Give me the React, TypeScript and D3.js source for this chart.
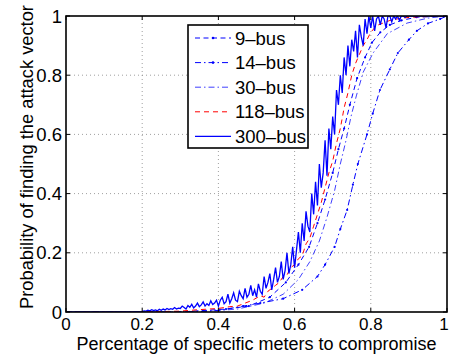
import React from 'react';
import * as d3 from 'd3';

// tick values
const xTicks = [0, 0.2, 0.4, 0.6, 0.8, 1];
const yTicks = [0, 0.2, 0.4, 0.6, 0.8, 1];

// 9-bus (blue dashed, close to 118-bus)
const bus9: [number, number][] = [
  [0, 0], [0.3, 0], [0.42, 0.01], [0.48, 0.02], [0.535, 0.05], [0.577, 0.1], [0.61, 0.16],
  [0.638, 0.22], [0.66, 0.3], [0.68, 0.38], [0.7, 0.47], [0.715, 0.55], [0.73, 0.62],
  [0.745, 0.7], [0.764, 0.79], [0.785, 0.86], [0.803, 0.91], [0.825, 0.945], [0.85, 0.97],
  [0.88, 0.985], [0.92, 0.996], [1, 1],
];

// 14-bus (rightmost, dash-dot with dots)
const bus14: [number, number][] = [
  [0, 0], [0.3, 0], [0.4, 0.005], [0.465, 0.02], [0.51, 0.03], [0.57, 0.045], [0.62, 0.075],
  [0.66, 0.12], [0.68, 0.16], [0.705, 0.22], [0.72, 0.28], [0.738, 0.345], [0.753, 0.43],
  [0.766, 0.5], [0.79, 0.6], [0.805, 0.67], [0.824, 0.75], [0.85, 0.82], [0.871, 0.875],
  [0.9, 0.92], [0.921, 0.95], [0.95, 0.975], [0.982, 0.99], [1, 1],
];

// 30-bus (middle dash-dot)
const bus30: [number, number][] = [
  [0, 0], [0.35, 0], [0.45, 0.01], [0.52, 0.03], [0.57, 0.06], [0.61, 0.11], [0.64, 0.17],
  [0.665, 0.24], [0.685, 0.32], [0.705, 0.41], [0.72, 0.5], [0.735, 0.58], [0.748, 0.66],
  [0.762, 0.73], [0.78, 0.81], [0.806, 0.875], [0.843, 0.94], [0.895, 0.976], [0.95, 0.993],
  [1, 1],
];

// 118-bus (red dashed)
const bus118: [number, number][] = [
  [0, 0], [0.2, 0], [0.3, 0.003], [0.35, 0.008], [0.4, 0.012], [0.43, 0.018], [0.45, 0.02],
  [0.47, 0.03], [0.49, 0.04], [0.51, 0.055], [0.52, 0.05], [0.53, 0.07], [0.54, 0.08],
  [0.55, 0.09], [0.56, 0.1], [0.57, 0.12], [0.58, 0.125], [0.59, 0.15], [0.6, 0.16],
  [0.61, 0.18], [0.62, 0.19], [0.63, 0.23], [0.64, 0.25], [0.65, 0.29], [0.66, 0.33],
  [0.67, 0.37], [0.68, 0.42], [0.69, 0.47], [0.7, 0.51], [0.71, 0.57], [0.72, 0.62],
  [0.73, 0.69], [0.74, 0.74], [0.75, 0.8], [0.76, 0.84], [0.77, 0.87], [0.78, 0.9],
  [0.79, 0.92], [0.8, 0.945], [0.81, 0.96], [0.82, 0.97], [0.83, 0.975], [0.85, 0.985],
  [0.88, 0.993], [0.92, 0.997], [1, 1],
];

// 300-bus (solid, noisy) sampled every 0.005 starting at 0.2
const bus300Start = 0.2;
const bus300Step = 0.005;
const bus300Y = [
  0.002, 0.004, 0.003, 0.006, 0.004, 0.008, 0.005, 0.007, 0.004, 0.009, 0.006, 0.01, 0.007, 0.012, 0.008, 0.011, 0.009, 0.015, 0.01, 0.013,
  0.012, 0.02, 0.015, 0.01, 0.022, 0.016, 0.026, 0.014, 0.02, 0.03, 0.018, 0.024, 0.034, 0.02, 0.028, 0.022, 0.038, 0.025, 0.03, 0.04,
  0.02, 0.04, 0.05, 0.028, 0.035, 0.06, 0.03, 0.045, 0.065, 0.04, 0.035, 0.07, 0.055, 0.045, 0.08, 0.05, 0.06, 0.09, 0.055, 0.075,
  0.05, 0.095, 0.07, 0.06, 0.12, 0.08, 0.1, 0.13, 0.075, 0.11, 0.15, 0.1, 0.12, 0.17, 0.11, 0.14, 0.2, 0.13, 0.16, 0.22,
  0.15, 0.21, 0.27, 0.2, 0.3, 0.24, 0.34, 0.29, 0.27, 0.4, 0.33, 0.44, 0.36, 0.5, 0.42, 0.47, 0.58, 0.46, 0.62, 0.55,
  0.66, 0.6, 0.75, 0.7, 0.8, 0.74, 0.86, 0.8, 0.9, 0.83, 0.92, 0.88, 0.95, 0.86, 0.97, 0.93, 0.9, 0.99, 0.94, 1,
  0.96, 1, 0.95, 0.99, 1, 0.97, 1, 0.99, 0.96, 1, 1, 0.98, 1, 0.99, 1, 0.985, 1, 1, 0.995, 1,
  1,
];
const bus300Head: [number, number][] = [[0, 0], [0.2, 0]];
const bus300Tail: [number, number][] = [[1, 1]];

const legendLabels = ['9\u2013bus', '14\u2013bus', '30\u2013bus', '118\u2013bus', '300\u2013bus'];

const W = 450;
const H = 354;
const M = { left: 66, right: 3, top: 16, bottom: 42 };
const FONT = '"Liberation Sans", Arial, Helvetica, sans-serif';

export default function App() {
  const x = d3.scaleLinear().domain([0, 1]).range([M.left, W - M.right]);
  const y = d3.scaleLinear().domain([0, 1]).range([H - M.bottom, M.top]);
  const line = d3.line<[number, number]>().x((d) => x(d[0])).y((d) => y(d[1]));

  const bus300: [number, number][] = [
    ...bus300Head,
    ...bus300Y.map((v, i) => [bus300Start + i * bus300Step, v] as [number, number]),
    ...bus300Tail,
  ];

  const series = [
    { data: bus9, color: '#0000ff', dash: '5,3.5', width: 1, dots: true, opacity: 1 },
    { data: bus14, color: '#0000ff', dash: '6,3,1.5,3', width: 1, dots: true, opacity: 1 },
    { data: bus30, color: '#0000ff', dash: '6,3,1.5,3', width: 1, dots: false, opacity: 0.75 },
    { data: bus118, color: '#ff0000', dash: '5,4', width: 1, dots: false, opacity: 1 },
    { data: bus300, color: '#0000ff', dash: '', width: 1.3, dots: false, opacity: 1 },
  ];

  const [x0, x1] = x.range();
  const [y0, y1] = y.range();

  const legend = { left: 188, top: 25, w: 120, h: 123 };
  const rowY = (i: number) => legend.top + 13 + i * 24.6;

  return (
    <svg width={W} height={H} style={{ position: 'absolute', left: 0, top: 0, background: '#fff' }} fontFamily={FONT}>
      <defs>
        <clipPath id="plot">
          <rect x={x0} y={y1} width={x1 - x0} height={y0 - y1} />
        </clipPath>
      </defs>
      <rect x={0} y={0} width={W} height={H} fill="#fff" />

      {/* grid */}
      {xTicks.slice(1, -1).map((t) => (
        <line key={'gx' + t} x1={x(t)} x2={x(t)} y1={y0} y2={y1} stroke="#888" strokeWidth={0.8} strokeDasharray="1,3" />
      ))}
      {yTicks.slice(1, -1).map((t) => (
        <line key={'gy' + t} x1={x0} x2={x1} y1={y(t)} y2={y(t)} stroke="#888" strokeWidth={0.8} strokeDasharray="1,3" />
      ))}

      {/* curves */}
      <g clipPath="url(#plot)">
        {series.map((s, i) => (
          <g key={i} opacity={s.opacity}>
            <path d={line(s.data) || ''} fill="none" stroke={s.color} strokeWidth={s.width} strokeDasharray={s.dash || undefined} />
            {s.dots &&
              s.data.slice(1, -1).map((d, j) => (
                <circle key={j} cx={x(d[0])} cy={y(d[1])} r={1.1} fill={s.color} />
              ))}
          </g>
        ))}
      </g>

      {/* frame */}
      <rect x={x0} y={y1} width={x1 - x0} height={y0 - y1} fill="none" stroke="#000" strokeWidth={1.6} />

      {/* ticks */}
      {xTicks.map((t) => (
        <g key={'tx' + t}>
          <line x1={x(t)} x2={x(t)} y1={y0} y2={y0 - 4} stroke="#000" />
          <line x1={x(t)} x2={x(t)} y1={y1} y2={y1 + 4} stroke="#000" />
          <text x={Math.min(x(t), W - 6)} y={y0 + 18} textAnchor="middle" fontSize={17}>{d3.format('~g')(t)}</text>
        </g>
      ))}
      {yTicks.map((t) => (
        <g key={'ty' + t}>
          <line x1={x0} x2={x0 + 4} y1={y(t)} y2={y(t)} stroke="#000" />
          <line x1={x1} x2={x1 - 4} y1={y(t)} y2={y(t)} stroke="#000" />
          <text x={x0 - 4} y={y(t) + 6.5} textAnchor="end" fontSize={18.5}>{d3.format('~g')(t)}</text>
        </g>
      ))}

      {/* axis titles */}
      <text x={(x0 + x1) / 2} y={349.5} textAnchor="middle" fontSize={18}>
        Percentage of specific meters to compromise
      </text>
      <text transform={`translate(33,${(y0 + y1) / 2 - 7}) rotate(-90)`} textAnchor="middle" fontSize={18.3}>
        Probability of finding the attack vector
      </text>

      {/* legend */}
      <rect x={legend.left} y={legend.top} width={legend.w} height={legend.h} fill="#fff" stroke="#000" strokeWidth={1.6} />
      {series.map((s, i) => (
        <g key={'lg' + i} opacity={s.opacity}>
          <line x1={195} x2={231} y1={rowY(i)} y2={rowY(i)} stroke={s.color} strokeWidth={s.width} strokeDasharray={s.dash || undefined} />
          {s.dots && <circle cx={213} cy={rowY(i)} r={1.3} fill={s.color} />}
        </g>
      ))}
      {legendLabels.map((l, i) => (
        <text key={'lt' + i} x={235} y={rowY(i) + 6.5} fontSize={18.5}>{l}</text>
      ))}
    </svg>
  );
}
